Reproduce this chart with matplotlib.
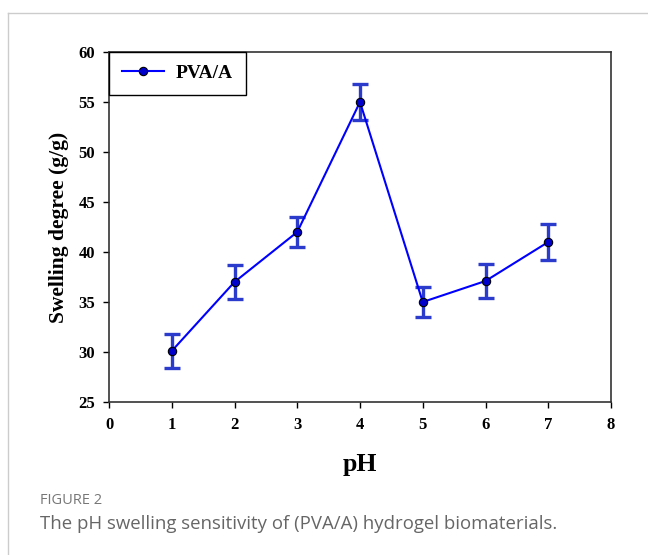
import matplotlib
matplotlib.use("Agg")
import matplotlib.pyplot as plt
from matplotlib.lines import Line2D

ph = [1, 2, 3, 4, 5, 6, 7]
swelling = [30.1, 37.0, 42.0, 55.0, 35.0, 37.1, 41.0]
err = [1.7, 1.7, 1.5, 1.8, 1.5, 1.7, 1.8]
xticks = [0, 1, 2, 3, 4, 5, 6, 7, 8]
yticks = [25, 30, 35, 40, 45, 50, 55, 60]

fig = plt.figure(figsize=(6.48, 5.55), dpi=100)
ax = fig.add_axes([109/648, 1-402/555, (611-109)/648, (402-52)/555])

serif = "Liberation Serif"
ax.errorbar(ph, swelling, yerr=err, fmt='none', ecolor='#2b3bcc', elinewidth=2.4,
            capsize=6, capthick=2.4, zorder=2)
ax.plot(ph, swelling, color='#0000ff', lw=1.5, marker='o', ms=6,
        mfc='#0000cc', mec='black', mew=0.8, zorder=3, label='PVA/A')

ax.set_xlim(0, 8)
ax.set_ylim(25, 60)
ax.set_xticks(xticks)
ax.set_yticks(yticks)
ax.tick_params(direction='out', length=4, width=1, pad=6)
ax.tick_params(axis='x', pad=7)
for lab in ax.get_xticklabels() + ax.get_yticklabels():
    lab.set_fontfamily(serif)
    lab.set_fontweight('bold')
    lab.set_fontsize(12)
for s in ax.spines.values():
    s.set_linewidth(1.2)
    s.set_color('#333333')

ax.set_xlabel('pH', fontfamily=serif, fontweight='bold', fontsize=18.5, labelpad=14)
ax.set_ylabel('Swelling degree (g/g)', fontfamily=serif, fontweight='bold', fontsize=15.5, labelpad=7)

leg = ax.legend(loc='upper left', bbox_to_anchor=(0, 1), borderaxespad=0,
                prop={'family': serif, 'weight': 'bold', 'size': 14},
                fancybox=False, edgecolor='black', framealpha=1,
                handlelength=2.2, borderpad=0.65, handletextpad=0.6)
leg.get_frame().set_linewidth(1.0)

# card border
fig.add_artist(Line2D([8/648, 1], [1-13/555, 1-13/555], color='#cccccc', lw=1, transform=fig.transFigure))
fig.add_artist(Line2D([8/648, 8/648], [0, 1-13/555], color='#cccccc', lw=1, transform=fig.transFigure))

fig.text(40/648, 1-500/555, 'FIGURE 2', fontfamily='Open Sans', fontsize=10.5, color='#777777', va='center')
fig.text(40/648, 1-524/555, 'The pH swelling sensitivity of (PVA/A) hydrogel biomaterials.',
         fontfamily='Open Sans', fontsize=13.4, color='#666666', va='center')

fig.savefig('out.png', dpi=100)
